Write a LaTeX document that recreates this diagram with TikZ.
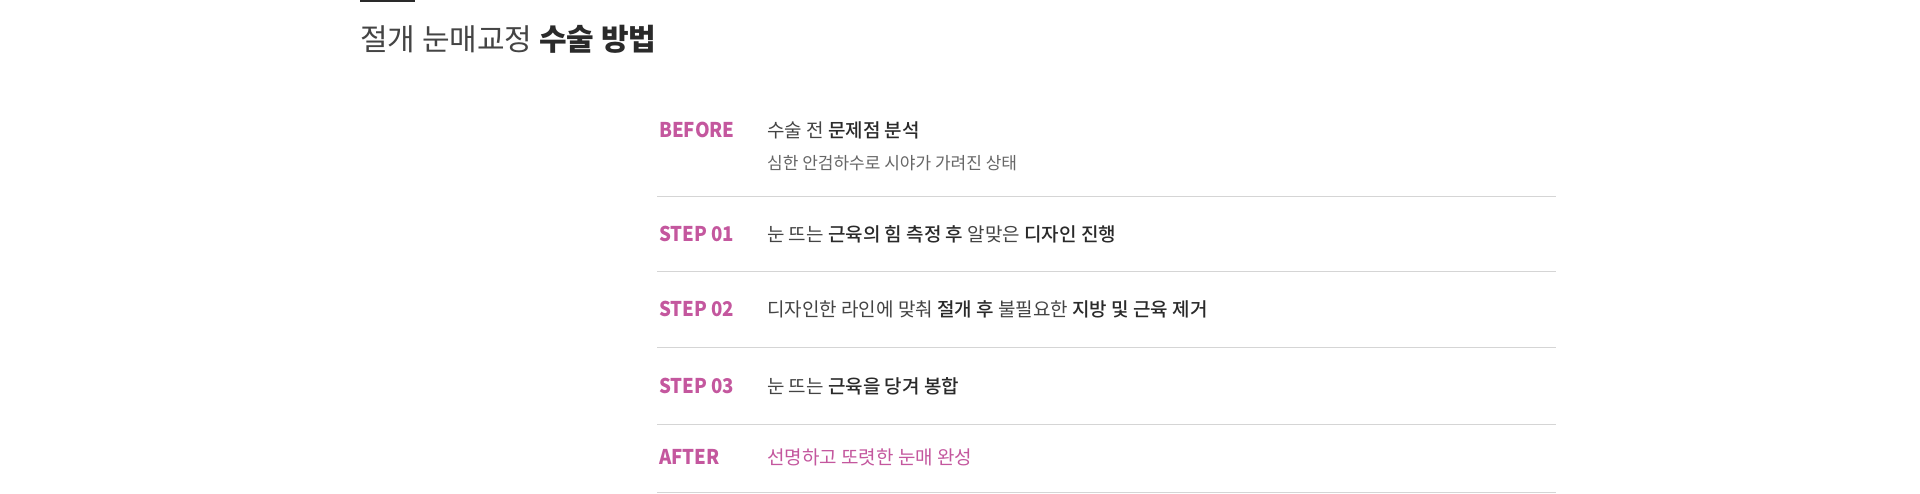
\documentclass[tikz,border=0pt]{standalone}
\usepackage{fontspec}
\setmainfont{Noto Sans CJK KR}
\newfontfamily\kr{Noto Sans CJK KR}
\newfontfamily\krm{Noto Sans CJK KR Medium}
\newfontfamily\krlbl{Noto Sans CJK KR}[FakeStretch=0.92]
\definecolor{pinkc}{HTML}{C4579E}
\definecolor{txt}{HTML}{444444}
\definecolor{txtb}{HTML}{2A2A2A}
\definecolor{subt}{HTML}{666666}
\definecolor{rule}{HTML}{D5D5D5}
\newcommand{\emb}[1]{{\krm\color{txtb}#1}}
\begin{document}
\begin{tikzpicture}[x=1pt,y=-1pt,
  lbl/.style={anchor=west,inner sep=0pt,font=\krlbl\fontsize{20.3}{24}\selectfont\bfseries,text=pinkc},
  body/.style={anchor=west,inner sep=0pt,font=\kr\fontsize{19}{23}\selectfont,text=txt},
  subbody/.style={anchor=west,inner sep=0pt,font=\kr\fontsize{17}{20}\selectfont,text=subt},
  sep/.style={draw=rule,line width=1pt}]
\useasboundingbox[fill=white] (0,0) rectangle (1920,493);
\coordinate (tl1) at (360,1);
\coordinate (tl2) at (415,1);
\draw[line width=2pt,color=txtb] (tl1) -- (tl2);
\node[anchor=west,inner sep=0pt,font=\kr\fontsize{30}{36}\selectfont,text=txt] (title) at (360,39.5)
  {절개 눈매교정 {\bfseries\color{txtb}수술 방법}};

\node[lbl] (l0) at (659,129.5) {BEFORE};
\node[body] (t0) at (767,130) {수술 전 \emb{문제점 분석}};
\node[subbody] (s0) at (767,163) {심한 안검하수로 시야가 가려진 상태};

\node[lbl] (l1) at (659,233.5) {STEP 01};
\node[body] (t1) at (767,234) {눈 뜨는 \emb{근육의 힘 측정 후} 알맞은 \emb{디자인 진행}};

\node[lbl] (l2) at (659,309) {STEP 02};
\node[body] (t2) at (767,309.5) {디자인한 라인에 맞춰 \emb{절개 후} 불필요한 \emb{지방 및 근육 제거}};

\node[lbl] (l3) at (659,386) {STEP 03};
\node[body] (t3) at (767,386.5) {눈 뜨는 \emb{근육을 당겨 봉합}};

\node[lbl] (l4) at (659,457) {AFTER};
\node[body,text=pinkc] (t4) at (767,457.5) {선명하고 또렷한 눈매 완성};

\foreach \n/\y in {a/196,b/271,c/347.5,d/424.5,e/492}{
  \coordinate (\n1) at (657,\y);
  \coordinate (\n2) at (1556,\y);
  \draw[sep] (\n1) -- (\n2);
}
\end{tikzpicture}
\end{document}
